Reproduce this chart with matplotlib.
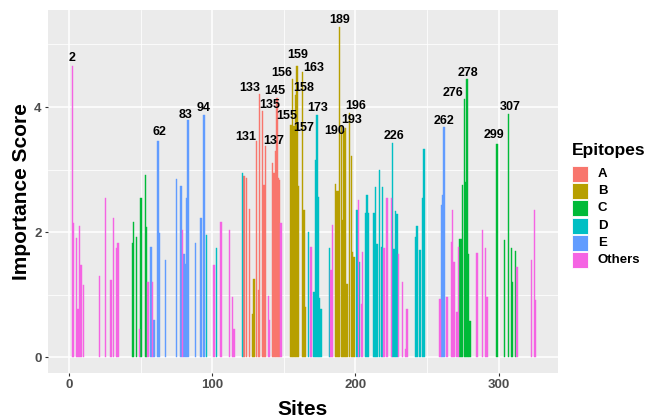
import matplotlib
matplotlib.use("Agg")
import matplotlib.pyplot as plt
from matplotlib.patches import Rectangle

plt.rcParams['font.family'] = ['Liberation Sans', 'DejaVu Sans']

# epitope A
a_sites = [122, 124, 126, 131, 132, 133, 135, 136, 137, 142, 143, 144, 145, 146, 147]
a_scores = [2.89, 2.87, 2.37, 3.46, 1.08, 4.21, 3.93, 2.75, 3.38, 3.10, 2.94, 3.29, 4.14, 2.86, 2.84]
# epitope B
b_sites = [128, 129, 155, 156, 157, 158, 159, 160, 163, 164, 165, 186, 187, 188, 189, 190,
           191, 192, 193, 194, 196, 197, 198, 199]
b_scores = [0.70, 1.25, 3.72, 4.45, 3.70, 4.19, 4.66, 2.74, 4.56, 2.35, 0.80, 2.77, 2.66, 2.66,
            5.28, 3.69, 2.20, 3.62, 3.66, 1.17, 3.91, 3.21, 1.69, 1.61]
# epitope C
c_sites = [44, 45, 47, 50, 53, 54, 273, 274, 275, 276, 277, 278, 279, 280, 299, 304, 307, 309,
           310, 312]
c_scores = [1.83, 2.16, 1.92, 2.55, 2.91, 2.08, 1.89, 1.89, 2.76, 4.13, 2.80, 4.44, 1.65, 0.58,
            3.41, 1.88, 3.89, 1.74, 1.21, 1.70]
# epitope D
d_sites = [96, 103, 121, 167, 171, 172, 173, 174, 175, 176, 182, 201, 203, 207, 208, 209, 213,
           214, 215, 217, 218, 219, 226, 227, 228, 229, 242, 243, 245, 247, 248]
d_scores = [1.96, 1.74, 2.95, 2.01, 1.05, 3.16, 3.88, 2.57, 0.95, 0.78, 1.75, 2.35, 1.53, 2.31,
            2.60, 2.31, 2.31, 2.72, 1.81, 3.00, 1.77, 2.72, 3.42, 1.73, 2.34, 2.29, 1.92, 2.10,
            1.71, 2.54, 3.33]
# epitope E
e_sites = [57, 59, 62, 63, 67, 75, 78, 80, 81, 82, 83, 88, 92, 94, 260, 261, 262]
e_scores = [1.77, 0.60, 3.46, 1.98, 1.56, 2.85, 2.74, 1.65, 1.49, 2.55, 3.79, 1.83, 2.22, 3.87,
            2.44, 2.60, 3.68]
# others
o_sites = [2, 3, 5, 6, 7, 8, 10, 21, 25, 29, 31, 33, 34, 49, 55, 58, 79, 101, 106, 112, 114,
           115, 139, 140, 148, 169, 183, 184, 202, 204, 205, 220, 222, 225, 230, 233, 235, 236,
           259, 264, 267, 268, 269, 271, 272, 285, 289, 291, 292, 313, 323, 325, 326]
o_scores = [4.65, 2.15, 1.90, 0.78, 2.10, 1.48, 1.15, 1.30, 2.54, 1.24, 2.23, 1.74, 1.82, 0.45,
            1.21, 1.20, 2.04, 1.47, 2.17, 2.04, 0.97, 0.46, 0.98, 0.60, 2.15, 1.77, 1.40, 2.12,
            2.52, 0.86, 1.68, 1.74, 2.54, 2.55, 1.65, 1.21, 0.13, 0.77, 0.93, 0.97, 1.85, 2.35,
            1.53, 0.72, 1.77, 1.66, 2.03, 1.74, 0.97, 1.45, 1.55, 2.36, 0.92]

groups = ['A', 'B', 'C', 'D', 'E', 'Others']
colors = ['#F8766D', '#B79F00', '#00BA38', '#00BFC4', '#619CFF', '#F564E3']
all_sites = [a_sites, b_sites, c_sites, d_sites, e_sites, o_sites]
all_scores = [a_scores, b_scores, c_scores, d_scores, e_scores, o_scores]

# labelled sites and where their text sits relative to the bar top (dx sites, dy score)
label_offsets = {2: (0, 0.14), 62: (0.6, 0.14), 83: (-1.7, 0.09), 94: (-0.4, 0.11),
                 131: (-7.4, 0.06), 133: (-7, 0.10), 135: (5.4, 0.10), 137: (6, 0.08),
                 145: (-1.1, 0.12), 155: (-3.4, 0.13), 156: (-7.4, 0.10), 157: (6.5, -0.03),
                 158: (5.5, 0.11), 159: (0.3, 0.17), 163: (7.5, 0.06), 173: (0.6, 0.10),
                 189: (-0.3, 0.11), 190: (-4.3, -0.07), 193: (4.3, 0.13), 196: (4.3, 0.11),
                 226: (1.2, 0.11), 262: (-0.1, 0.10), 276: (-8, 0.10), 278: (0.5, 0.10),
                 299: (-1.9, 0.14), 307: (1.0, 0.11)}

fig = plt.figure(figsize=(6.46, 4.2), dpi=100)
ax = fig.add_axes([48 / 646, 47 / 420, 510 / 646, 363 / 420])
ax.set_facecolor('#EBEBEB')

score_of = {}
for s, v, c in zip(all_sites, all_scores, colors):
    ax.bar(s, v, width=0.95, color=c, edgecolor=c, linewidth=0.3)
    score_of.update(dict(zip(s, v)))

for site, (dx, dy) in label_offsets.items():
    ax.text(site + dx, score_of[site] + dy, str(site), ha='center', va='center',
            fontsize=9, fontweight='bold', color='black')

ax.set_xlim(-15, 341.6)
ax.set_ylim(-0.25, 5.55)
ax.set_xticks([0, 100, 200, 300])
ax.set_xticks([50, 150, 250], minor=True)
ax.set_yticks([0, 2, 4])
ax.set_yticks([1, 3, 5], minor=True)
ax.grid(which='major', color='white', linewidth=1.1)
ax.grid(which='minor', color='white', linewidth=0.55)
ax.set_axisbelow(True)
for sp in ax.spines.values():
    sp.set_visible(False)
ax.tick_params(which='major', length=2.5, width=0.8, color='#333333', labelsize=9.5,
               labelcolor='#4D4D4D', pad=2)
ax.tick_params(which='minor', length=0)
for lab in ax.get_xticklabels() + ax.get_yticklabels():
    lab.set_fontweight('bold')

ax.set_xlabel('Sites', fontsize=15, fontweight='bold', labelpad=6)
ax.set_ylabel('Importance Score', fontsize=15, fontweight='bold', labelpad=2)

# legend
fig.text(572 / 646, 1 - 150 / 420, 'Epitopes', fontsize=12.5, fontweight='bold',
         ha='left', va='center')
for i, (g, c) in enumerate(zip(groups, colors)):
    top = 166 + i * 17.2
    fig.add_artist(Rectangle((572 / 646, 1 - (top + 16) / 420), 16 / 646, 16 / 420,
                             transform=fig.transFigure, facecolor=c, edgecolor='white',
                             linewidth=0.6))
    fig.text(598 / 646, 1 - (top + 8) / 420, g, fontsize=9.5, fontweight='bold',
             ha='left', va='center')

fig.savefig('out.png', dpi=100)
